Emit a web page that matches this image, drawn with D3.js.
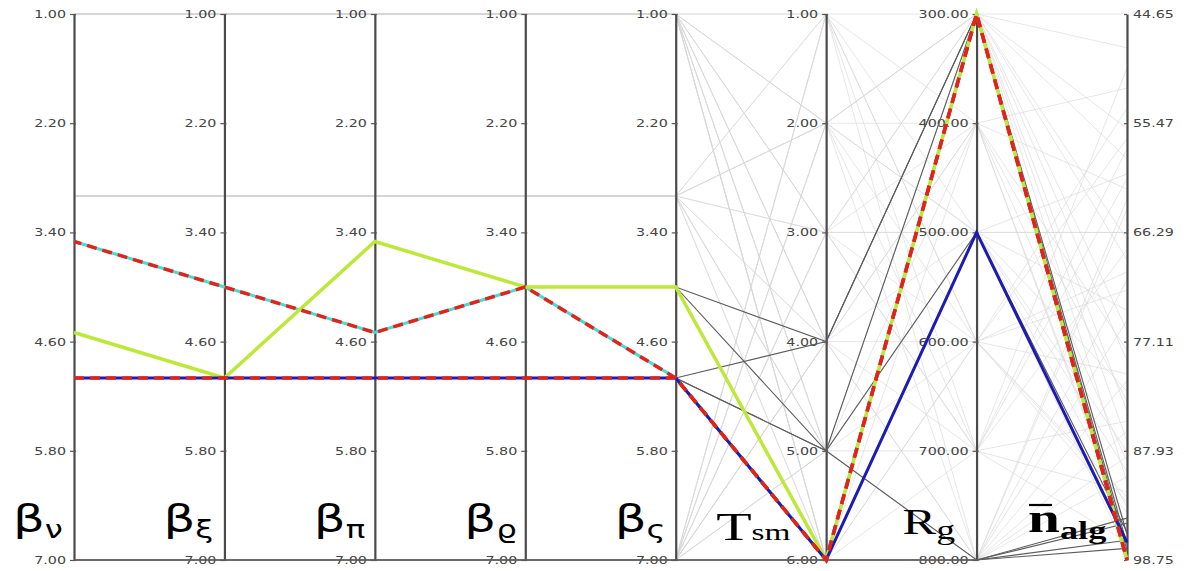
<!DOCTYPE html>
<html>
<head>
<meta charset="utf-8">
<script src="https://cdn.jsdelivr.net/npm/d3@7"></script>
<style>
  html, body { margin: 0; padding: 0; background: #fff; }
  svg { display: block; }
</style>
</head>
<body>
<svg id="chart" width="1189" height="571"></svg>
<script>
// ---- dimensions -----------------------------------------------------------
const dimMain = ["β", "β", "β", "β", "β", "T", "R", "n"];
const dimSub  = ["ν", "ξ", "π", "ϱ", "ς", "sm", "g", "alg"];
const dimMin  = [1, 1, 1, 1, 1, 1, 300, 44.65];
const dimMax  = [7, 7, 7, 7, 7, 6, 800, 98.75];

// ---- tick values per axis ---------------------------------------------------
const betaTicks = [1.00, 2.20, 3.40, 4.60, 5.80, 7.00];
const tsmTicks  = [1.00, 2.00, 3.00, 4.00, 5.00, 6.00];
const rgTicks   = [300, 400, 500, 600, 700, 800];
const nalgTicks = [44.65, 55.47, 66.29, 77.11, 87.93, 98.75];
const axisTicks = [betaTicks, betaTicks, betaTicks, betaTicks, betaTicks, tsmTicks, rgTicks, nalgTicks];

// ---- records: [βν, βξ, βπ, βϱ, βς, Tsm, Rg, n_alg] ------------------------
// all evaluated configurations (drawn faint)
const allRuns = [
  [1,1,1,1,1, 1,300,44.65],
  [1,1,1,1,1, 2,400,52.0],
  [1,1,1,1,1, 3,500,60.5],
  [1,1,1,1,1, 4,600,70.2],
  [1,1,1,1,1, 5,700,85.0],
  [1,1,1,1,1, 6,400,62.0],
  [1,1,1,1,1, 2,600,80.3],
  [1,1,1,1,1, 3,300,48.0],
  [1,1,1,1,1, 4,800,75.0],
  [1,1,1,1,1, 5,500,66.29],
  [1,1,1,1,1, 6,700,58.0],
  [1,1,1,1,1, 2,300,67.0],
  [1,1,1,1,1, 4,400,95.5],
  [1,1,1,1,1, 6,300,87.0],
  [1,1,1,1,1, 1,600,93.0],
  [3,3,3,3,3, 1,500,90.0],
  [3,3,3,3,3, 2,300,56.0],
  [3,3,3,3,3, 3,500,66.29],
  [3,3,3,3,3, 4,700,92.0],
  [3,3,3,3,3, 5,400,83.0],
  [3,3,3,3,3, 6,600,54.0],
  [3,3,3,3,3, 2,800,64.0],
  [3,3,3,3,3, 1,600,72.0],
  [3,3,3,3,3, 4,400,89.0],
  [3,3,3,3,3, 5,800,71.0],
  [3,3,3,3,3, 3,700,97.0],
  [7,7,7,7,7, 1,400,78.0],
  [7,7,7,7,7, 2,500,88.0],
  [7,7,7,7,7, 3,700,50.0],
  [7,7,7,7,7, 4,300,69.0],
  [7,7,7,7,7, 5,600,94.0],
  [7,7,7,7,7, 1,800,86.0],
  [7,7,7,7,7, 2,700,61.0],
  [7,7,7,7,7, 3,400,96.0],
  [7,7,7,7,7, 4,500,74.0],
  [7,7,7,7,7, 5,300,91.0],
  [7,7,7,7,7, 6,500,82.0],
  [7,7,7,7,7, 5,800,63.0],
  [7,7,7,7,7, 2,300,79.0],
  [7,7,7,7,7, 3,600,57.0],
  [7,7,7,7,7, 1,700,68.0],
  [7,7,7,7,7, 6,600,92.5],
  [7,7,7,7,7, 4,800,88.5],
  [3,3,3,3,3, 6,800,90.5],
  [1,1,1,1,1, 5,800,81.0],
  [1,1,1,1,1, 3,300,84.0],
  [3,3,3,3,3, 2,500,93.5],
  [7,7,7,7,7, 4,300,59.0],
  [1,1,1,1,1, 6,500,98.0],
  [3,3,3,3,3, 5,300,76.0]
];

// near-optimal configurations (drawn dark grey)
const nearBest = [
  [3.5,4.0,4.5,4.0,4.0, 4,300,96.2],
  [5,5,5,5,5,           4,300,97.2],
  [4.5,5.0,3.5,4.0,4.0, 5,500,96.0],
  [5,5,5,5,5,           5,800,95.1],
  [5,5,5,5,5,           5,300,97.8],
  [7,7,7,7,7,           6,800,94.6],
  [7,7,7,7,7,           6,800,96.8],
  [7,7,7,7,7,           6,800,97.6]
];

// selected configurations
const runCyan   = [3.5,4.0,4.5,4.0,5.0, 6,300,98.75];
const runYellow = [4.5,5.0,3.5,4.0,4.0, 6,300,98.75];
const runBlue   = [5,5,5,5,5,           6,500,97.0];
const runRedA   = [3.5,4.0,4.5,4.0,5.0, 6,300,98.75];
const runRedB   = [5,5,5,5,5,           6,300,98.75];

// ---- layout -----------------------------------------------------------------
const svg = d3.select("#chart");
const yTop = 14, yBottom = 560;
const x = d3.scalePoint().domain(d3.range(dimMain.length)).range([74, 1127]);
const ys = dimMin.map((m, i) => d3.scaleLinear().domain([m, dimMax[i]]).range([yTop, yBottom]));
const line = d3.line();
const pointsOf = rec => rec.map((v, i) => [x(i), ys[i](v)]);
const pathOf = rec => line(pointsOf(rec));
// polyline length up to vertex k
const lengthTo = (rec, k) => {
  const p = pointsOf(rec);
  let s = 0;
  for (let j = 1; j <= k; j++) s += Math.hypot(p[j][0] - p[j - 1][0], p[j][1] - p[j - 1][1]);
  return s;
};

svg.append("rect").attr("width", 1189).attr("height", 571).attr("fill", "#fff");

// faint background polylines
svg.append("g")
  .selectAll("path").data(allRuns).join("path")
  .attr("d", pathOf)
  .attr("fill", "none")
  .attr("stroke", "#d6d6d6")
  .attr("stroke-opacity", 0.6)
  .attr("stroke-width", 1);

// axes
const fmt = d3.format(".2f");
const sx = 1.3; // wide label lettering
dimMain.forEach((_, i) => {
  const last = i === dimMain.length - 1;
  const axis = (last ? d3.axisRight(ys[i]) : d3.axisLeft(ys[i]))
    .tickValues(axisTicks[i])
    .tickFormat(fmt)
    .tickSizeOuter(0)
    .tickSizeInner(4);
  const g = svg.append("g")
    .attr("transform", `translate(${x(i)},0)`)
    .call(axis);
  g.select(".domain").attr("stroke", "#4a4a4a").attr("stroke-width", 2.2);
  g.selectAll(".tick line")
    .attr("stroke", "#555")
    .attr("stroke-width", 1.2)
    .attr("x1", last ? -3 : -4)
    .attr("x2", last ? 0 : 2);
  g.selectAll(".tick text")
    .attr("font-family", "DejaVu Sans, sans-serif")
    .attr("font-size", 11)
    .attr("fill", "#444")
    .attr("x", (last ? 6 : -8) / sx)
    .attr("transform", `scale(${sx},1)`);
});

// near-optimal runs
svg.append("g")
  .selectAll("path").data(nearBest).join("path")
  .attr("d", pathOf)
  .attr("fill", "none")
  .attr("stroke", "#5c5c5c")
  .attr("stroke-width", 1.1);

// selected runs
const sel = svg.append("g").attr("fill", "none");
sel.append("path").attr("d", pathOf(runCyan)).attr("stroke", "#46dcd2").attr("stroke-width", 3);
sel.append("path").attr("d", pathOf(runYellow)).attr("stroke", "#bde83a").attr("stroke-width", 3.5);
sel.append("path").attr("d", pathOf(runBlue)).attr("stroke", "#1c1cb2").attr("stroke-width", 3);

// red dashed runs; the second one's dash phase is shifted so that both
// share one dash pattern where they run together from the βς axis on
const dashPeriod = 16;
const phase = ((lengthTo(runRedB, 4) - lengthTo(runRedA, 4)) % dashPeriod + dashPeriod) % dashPeriod;
[[runRedB, 0], [runRedA, phase]].forEach(([r, off]) =>
  sel.append("path").attr("d", pathOf(r))
    .attr("stroke", "#e0241c").attr("stroke-width", 3.5)
    .attr("stroke-dasharray", "10 6")
    .attr("stroke-dashoffset", off));

// axis titles
const titles = svg.append("g");
dimMain.forEach((m, i) => {
  const ax = x(i);
  if (i < 5) {
    const t = titles.append("text")
      .attr("transform", `translate(${ax - 61},531) scale(1.35,1)`)
      .attr("font-family", "DejaVu Sans, sans-serif")
      .attr("fill", "#000");
    t.append("tspan").attr("font-size", 37).text(m);
    t.append("tspan").attr("font-size", 24).attr("dy", 7).text(dimSub[i]);
  } else if (i === 5) {
    const t = titles.append("text")
      .attr("transform", `translate(${ax - 110},540) scale(1.45,1)`)
      .attr("font-family", "Liberation Serif, serif")
      .attr("fill", "#000");
    t.append("tspan").attr("font-size", 40).text(m);
    t.append("tspan").attr("font-size", 23).text(dimSub[i]);
  } else if (i === 6) {
    const t = titles.append("text")
      .attr("transform", `translate(${ax - 74},534) scale(1.4,1)`)
      .attr("font-family", "Liberation Serif, serif")
      .attr("fill", "#000");
    t.append("tspan").attr("font-size", 36).text(m);
    t.append("tspan").attr("font-size", 27).attr("dy", 5).text(dimSub[i]);
  } else {
    const t = titles.append("text")
      .attr("transform", `translate(${ax - 99},532) scale(1.4,1)`)
      .attr("font-family", "Liberation Serif, serif")
      .attr("font-weight", "bold")
      .attr("fill", "#000");
    t.append("tspan").attr("font-size", 41).text(m);
    t.append("tspan").attr("font-size", 26).attr("dy", 7).text(dimSub[i]);
    // overbar on n
    titles.append("line")
      .attr("x1", ax - 98).attr("x2", ax - 75)
      .attr("y1", 505).attr("y2", 505)
      .attr("stroke", "#000").attr("stroke-width", 2.2);
  }
});
</script>
</body>
</html>
